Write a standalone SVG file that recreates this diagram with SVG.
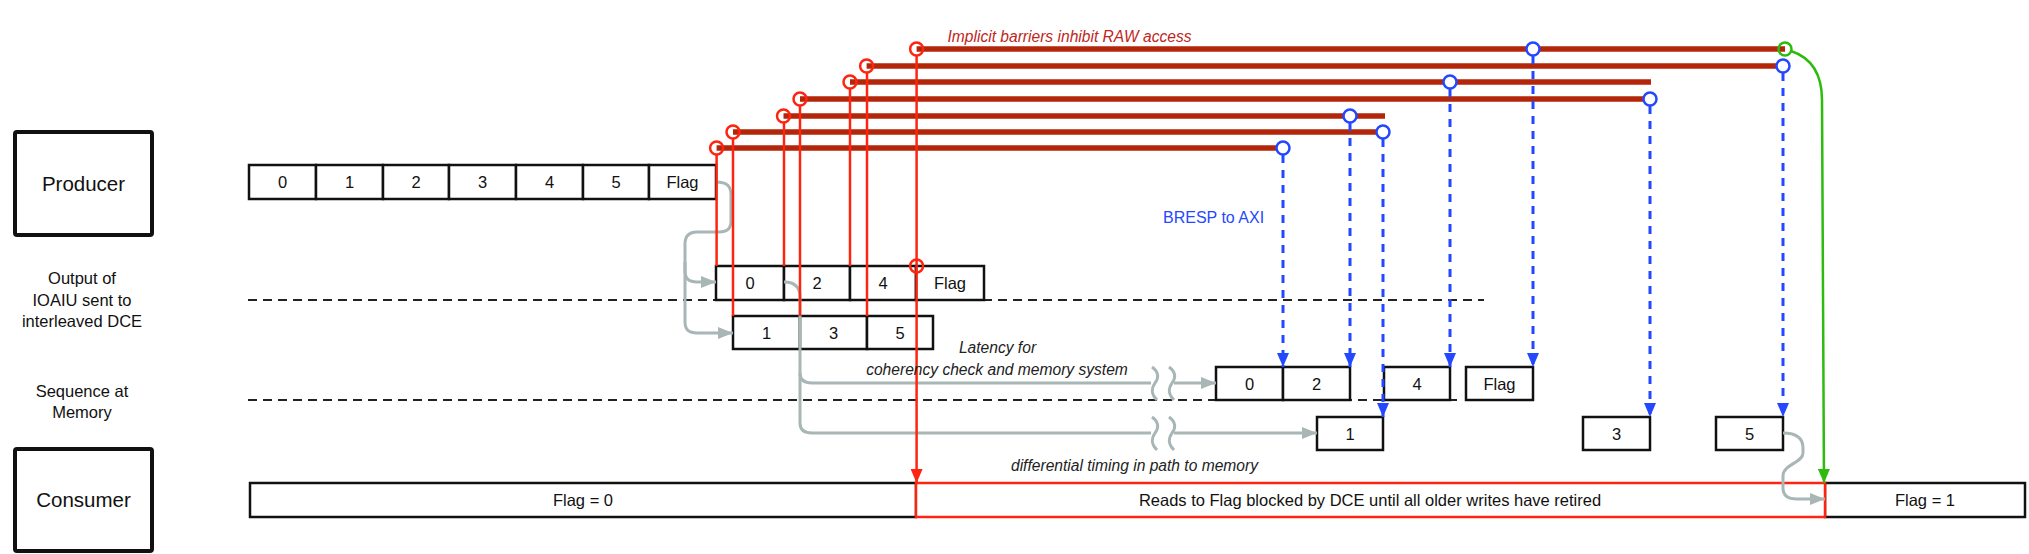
<svg xmlns="http://www.w3.org/2000/svg" width="2029" height="554" viewBox="0 0 2029 554">
<defs>
<style>
text{font-family:"Liberation Sans",Arial,Helvetica,sans-serif;fill:#111}
.big{font-size:20.5px}
.lab{font-size:16.5px}
.cell{font-size:16.5px}
.it{font-size:15.6px;font-style:italic;fill:#222}
.bigbox{fill:#fff;stroke:#111;stroke-width:4}
.c{fill:#fff;stroke:#111;stroke-width:2.5}
.dash{stroke:#222;stroke-width:2;stroke-dasharray:9 6;fill:none}
.brown{stroke:#b3260a;stroke-width:5.5;fill:none}
.red{stroke:#ff2410;stroke-width:2.5;fill:none}
.rc{stroke:#ff2410;stroke-width:2.5;fill:none}
.blue{stroke:#2448ff;stroke-width:3;stroke-dasharray:8 7;fill:none}
.bc{stroke:#2448ff;stroke-width:2.5;fill:#fff}
.gray{stroke:#a9b6b6;stroke-width:3;fill:none}
.green{stroke:#2dbb0f;stroke-width:2.5;fill:none}
</style>
<marker id="ab" markerUnits="userSpaceOnUse" markerWidth="14" markerHeight="12" refX="14" refY="6" orient="auto"><path d="M0,0 L14,6 L0,12 z" fill="#2448ff"/></marker>
<marker id="ar" markerUnits="userSpaceOnUse" markerWidth="14" markerHeight="12" refX="14" refY="6" orient="auto"><path d="M0,0 L14,6 L0,12 z" fill="#ff2410"/></marker>
<marker id="ag" markerUnits="userSpaceOnUse" markerWidth="14" markerHeight="12" refX="14" refY="6" orient="auto"><path d="M0,0 L14,6 L0,12 z" fill="#2dbb0f"/></marker>
<marker id="ay" markerUnits="userSpaceOnUse" markerWidth="15" markerHeight="12" refX="15" refY="6" orient="auto"><path d="M0,0 L15,6 L0,12 z" fill="#a9b6b6"/></marker>
</defs>
<rect width="2029" height="554" fill="#fff"/>

<g id="label-producer"><rect class="bigbox" x="15" y="132" width="137" height="103" rx="2"/><text class="big" x="83.5" y="191" text-anchor="middle">Producer</text></g>
<g id="label-consumer"><rect class="bigbox" x="15" y="449" width="137" height="102" rx="2"/><text class="big" x="83.5" y="507" text-anchor="middle">Consumer</text></g>
<g id="label-ioaiu"><text class="lab" text-anchor="middle"><tspan x="82" y="284">Output of</tspan><tspan x="82" y="305.5">IOAIU sent to</tspan><tspan x="82" y="327">interleaved DCE</tspan></text></g>
<g id="label-memory"><text class="lab" text-anchor="middle"><tspan x="82" y="397">Sequence at</tspan><tspan x="82" y="418">Memory</tspan></text></g>

<g id="separators">
<line class="dash" x1="248" y1="300" x2="1484" y2="300"/>
<line class="dash" x1="248" y1="400" x2="1460" y2="400"/>
</g>

<g id="producer-seq">
<rect class="c" x="249" y="165" width="67" height="34"/><text class="cell" x="282.5" y="188" text-anchor="middle">0</text>
<rect class="c" x="316" y="165" width="67" height="34"/><text class="cell" x="349.5" y="188" text-anchor="middle">1</text>
<rect class="c" x="383" y="165" width="66" height="34"/><text class="cell" x="416" y="188" text-anchor="middle">2</text>
<rect class="c" x="449" y="165" width="67" height="34"/><text class="cell" x="482.5" y="188" text-anchor="middle">3</text>
<rect class="c" x="516" y="165" width="67" height="34"/><text class="cell" x="549.5" y="188" text-anchor="middle">4</text>
<rect class="c" x="583" y="165" width="66" height="34"/><text class="cell" x="616" y="188" text-anchor="middle">5</text>
<rect class="c" x="649" y="165" width="67" height="34"/><text class="cell" x="682.5" y="188" text-anchor="middle">Flag</text>
</g>

<g id="ioaiu-even">
<rect class="c" x="716" y="266" width="68" height="34"/><text class="cell" x="750" y="289" text-anchor="middle">0</text>
<rect class="c" x="784" y="266" width="66" height="34"/><text class="cell" x="817" y="289" text-anchor="middle">2</text>
<rect class="c" x="850" y="266" width="66" height="34"/><text class="cell" x="883" y="289" text-anchor="middle">4</text>
<rect class="c" x="916" y="266" width="68" height="34"/><text class="cell" x="950" y="289" text-anchor="middle">Flag</text>
</g>
<g id="ioaiu-odd">
<rect class="c" x="733" y="316" width="67" height="33"/><text class="cell" x="766.5" y="338.5" text-anchor="middle">1</text>
<rect class="c" x="800" y="316" width="67" height="33"/><text class="cell" x="833.5" y="338.5" text-anchor="middle">3</text>
<rect class="c" x="867" y="316" width="66" height="33"/><text class="cell" x="900" y="338.5" text-anchor="middle">5</text>
</g>

<g id="memory-seq">
<rect class="c" x="1216" y="367" width="67" height="33"/><text class="cell" x="1249.5" y="389.5" text-anchor="middle">0</text>
<rect class="c" x="1283" y="367" width="67" height="33"/><text class="cell" x="1316.5" y="389.5" text-anchor="middle">2</text>
<rect class="c" x="1384" y="367" width="66" height="33"/><text class="cell" x="1417" y="389.5" text-anchor="middle">4</text>
<rect class="c" x="1466" y="367" width="67" height="33"/><text class="cell" x="1499.5" y="389.5" text-anchor="middle">Flag</text>
<rect class="c" x="1317" y="417" width="66" height="33"/><text class="cell" x="1350" y="439.5" text-anchor="middle">1</text>
<rect class="c" x="1583" y="417" width="67" height="33"/><text class="cell" x="1616.5" y="439.5" text-anchor="middle">3</text>
<rect class="c" x="1716" y="417" width="67" height="33"/><text class="cell" x="1749.5" y="439.5" text-anchor="middle">5</text>
</g>

<g id="consumer-seq">
<rect class="c" x="250" y="483" width="666" height="34"/><text class="cell" x="583" y="506" text-anchor="middle">Flag = 0</text>
<rect class="c" x="1825" y="483" width="200" height="34"/><text class="cell" x="1925" y="506" text-anchor="middle">Flag = 1</text>
<rect x="916" y="483" width="909" height="34" fill="#fff" stroke="#ff2410" stroke-width="2.5"/><text class="cell" x="1370" y="506" text-anchor="middle">Reads to Flag blocked by DCE until all older writes have retired</text>
</g>

<g id="connectors">
<path class="gray" d="M716,182 C727,182 731,186 731,195 L731,221 C731,229 727,232 719,232 L697,232 C689,232 685,236 685,244 L685,322 C685,330 689,333 697,333 L733,333" marker-end="url(#ay)"/>
<path class="gray" d="M685,262 L685,271 C685,279 689,282 697,282 L716,282" marker-end="url(#ay)"/>
<path class="gray" d="M784,282 C795,282 800,287 800,297 L800,423 C800,430 804,433 812,433 L1151,433"/>
<path class="gray" d="M800,373 C800,380 804,383 812,383 L1151,383"/>
<path class="gray" d="M1174,383 L1216,383" marker-end="url(#ay)"/>
<path class="gray" d="M1174,433 L1317,433" marker-end="url(#ay)"/>
<path class="gray" d="M1152,367 C1159,372 1159,378 1155,383 C1151,389 1151,394 1157,400"/>
<path class="gray" d="M1169,367 C1176,372 1176,378 1172,383 C1168,389 1168,394 1174,400"/>
<path class="gray" d="M1152,417 C1159,422 1159,428 1155,433 C1151,439 1151,444 1157,450"/>
<path class="gray" d="M1169,417 C1176,422 1176,428 1172,433 C1168,439 1168,444 1174,450"/>
<path class="gray" d="M1783,433 C1798,433 1803,439 1803,448 L1803,453 C1803,463 1783,464 1783,476 L1783,488 C1783,496 1788,499 1797,499 L1825,499" marker-end="url(#ay)"/>

<line class="brown" x1="916.6" y1="49" x2="1785" y2="49"/>
<line class="brown" x1="866.6" y1="66" x2="1783" y2="66"/>
<line class="brown" x1="850" y1="82" x2="1651" y2="82"/>
<line class="brown" x1="800" y1="99" x2="1650" y2="99"/>
<line class="brown" x1="783.5" y1="116" x2="1385" y2="116"/>
<line class="brown" x1="733" y1="132" x2="1383" y2="132"/>
<line class="brown" x1="716.6" y1="148" x2="1283" y2="148"/>

<line class="red" x1="716.6" y1="154" x2="716.6" y2="266"/>
<line class="red" x1="733" y1="138" x2="733" y2="316"/>
<line class="red" x1="784" y1="122" x2="784" y2="266"/>
<line class="red" x1="800" y1="105" x2="800" y2="316"/>
<line class="red" x1="850" y1="88" x2="850" y2="266"/>
<line class="red" x1="867" y1="72" x2="867" y2="316"/>
<line class="red" x1="916.6" y1="55" x2="916.6" y2="483" marker-end="url(#ar)"/>
<circle class="rc" cx="916.6" cy="49" r="6.5"/>
<circle class="rc" cx="866.6" cy="66" r="6.5"/>
<circle class="rc" cx="850" cy="82" r="6.5"/>
<circle class="rc" cx="800" cy="99" r="6.5"/>
<circle class="rc" cx="783.5" cy="116" r="6.5"/>
<circle class="rc" cx="733" cy="132" r="6.5"/>
<circle class="rc" cx="716.6" cy="148" r="6.5"/>
<circle class="rc" cx="916.6" cy="266" r="6.5"/>

<line class="blue" x1="1283" y1="155" x2="1283" y2="367" marker-end="url(#ab)"/>
<line class="blue" x1="1383" y1="139" x2="1383" y2="417" marker-end="url(#ab)"/>
<line class="blue" x1="1350" y1="123" x2="1350" y2="367" marker-end="url(#ab)"/>
<line class="blue" x1="1650" y1="106" x2="1650" y2="417" marker-end="url(#ab)"/>
<line class="blue" x1="1450" y1="89" x2="1450" y2="367" marker-end="url(#ab)"/>
<line class="blue" x1="1783" y1="73" x2="1783" y2="417" marker-end="url(#ab)"/>
<line class="blue" x1="1533" y1="56" x2="1533" y2="367" marker-end="url(#ab)"/>
<circle class="bc" cx="1283" cy="148" r="6.5"/>
<circle class="bc" cx="1383" cy="132" r="6.5"/>
<circle class="bc" cx="1350" cy="116" r="6.5"/>
<circle class="bc" cx="1650" cy="99" r="6.5"/>
<circle class="bc" cx="1450" cy="82" r="6.5"/>
<circle class="bc" cx="1783" cy="66" r="6.5"/>
<circle class="bc" cx="1533" cy="49" r="6.5"/>

<path class="green" d="M1791,51 C1812,58 1822,75 1822,100 L1824,483" marker-end="url(#ag)"/>
<circle class="green" cx="1785" cy="49" r="6.5"/>
</g>

<g id="annotations">
<text class="it" x="1069.5" y="41.5" text-anchor="middle" style="fill:#c0261c">Implicit barriers inhibit RAW access</text>
<text x="1163" y="222.8" style="font-size:16px;fill:#2448ff">BRESP to AXI</text>
<text class="it" x="997.5" y="353.4" text-anchor="middle">Latency for</text>
<text class="it" x="997" y="374.6" text-anchor="middle">coherency check and memory system</text>
<text class="it" x="1134.5" y="471.3" text-anchor="middle">differential timing in path to memory</text>
</g>
</svg>
